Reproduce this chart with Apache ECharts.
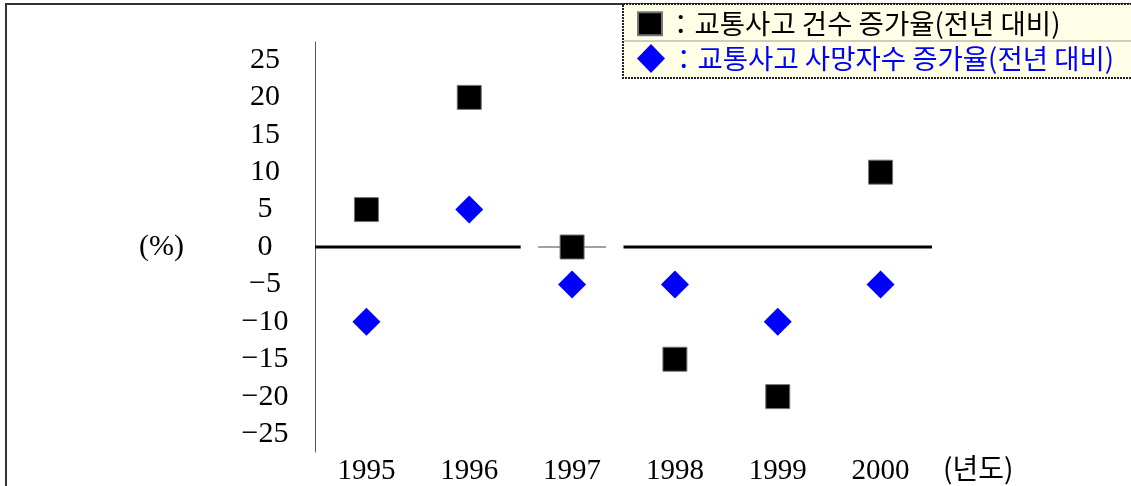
<!DOCTYPE html>
<html>
<head>
<meta charset="utf-8">
<script src="https://cdn.jsdelivr.net/npm/echarts@6/dist/echarts.min.js"></script>
<style>
html,body{margin:0;padding:0;background:#fff;}
#chart{width:1131px;height:486px;}
</style>
</head>
<body>
<div id="chart"></div>
<script>
// ---- data ----
const years = ['1995', '1996', '1997', '1998', '1999', '2000'];
const accidentGrowth = [5, 20, 0, -15, -20, 10];      // ■ 교통사고 건수 증가율
const fatalityGrowth = [-10, 5, -5, -5, -10, -5];     // ◆ 교통사고 사망자수 증가율
const yTickLabels = [25, 20, 15, 10, 5, 0, -5, -10, -15, -20, -25];
const seriesNames = ['교통사고 건수 증가율(전년 대비)', '교통사고 사망자수 증가율(전년 대비)'];

// zero line (drawn on a hidden value axis spanning the category bands), broken around 1997
const breakIdx = years.indexOf('1997');
const zeroThick = [[0, 0], [breakIdx, 0], [breakIdx + 0.5, '-'], [breakIdx + 1, 0], [years.length, 0]];
const zeroThin = [[breakIdx + 0.17, 0], [breakIdx + 0.83, 0]];

const chart = echarts.init(document.getElementById('chart'), null, {renderer: 'canvas'});
const serif = '"Liberation Serif", "Times New Roman", serif';
const kr = '"Noto Sans CJK KR", sans-serif';

chart.setOption({
  backgroundColor: '#fff',
  animation: false,
  graphic: [
    { type: 'polyline', shape: { points: [[6, 486], [6, 4], [1131, 4]] },
      style: { stroke: '#333', lineWidth: 2, fill: null }, z: 0 },
    { type: 'rect', shape: { x: 623, y: 4, width: 520, height: 74 },
      style: { fill: '#FFFFE8', stroke: '#222', lineWidth: 2, lineDash: [2, 1] }, z: 1 },
    { type: 'line', shape: { x1: 624, y1: 41, x2: 1131, y2: 41 },
      style: { stroke: '#999', lineWidth: 1 }, z: 1 }
  ],
  legend: [
    { data: [{ name: seriesNames[0], icon: 'rect', textStyle: { color: '#000' } }],
      left: 637, top: 10, itemWidth: 24, itemHeight: 23, padding: 0,
      formatter: '：{name}', textStyle: { fontFamily: kr, fontSize: 27.5, color: '#000' },
      selectedMode: false },
    { data: [{ name: seriesNames[1], icon: 'diamond', textStyle: { color: '#0000FF' } }],
      left: 637, top: 44, itemWidth: 28, itemHeight: 29, padding: 0,
      formatter: '：{name}', textStyle: { fontFamily: kr, fontSize: 27.5, color: '#0000FF' },
      selectedMode: false }
  ],
  grid: { left: 315, right: 199, top: 42, bottom: 34, containLabel: false },
  xAxis: [
    { type: 'category', data: years, boundaryGap: true,
      axisLine: { show: false, onZero: false }, axisTick: { show: false }, splitLine: { show: false },
      axisLabel: { fontFamily: serif, fontSize: 29, color: '#000', margin: 5 },
      name: '(년도)', nameLocation: 'end', nameGap: 11,
      nameTextStyle: { fontFamily: kr, fontSize: 28, color: '#000', verticalAlign: 'top', padding: [2, 0, 0, 0] } },
    { type: 'value', min: 0, max: years.length, show: false }
  ],
  yAxis: {
    type: 'value', min: -27.4, max: 27.4,
    axisLine: { show: true, lineStyle: { color: '#555', width: 1 } },
    axisTick: { show: false }, splitLine: { show: false },
    axisLabel: { customValues: yTickLabels, fontFamily: serif, fontSize: 30, color: '#000',
                 align: 'center', margin: 50, formatter: v => String(v).replace('-', '−') },
    name: '(%)', nameLocation: 'middle', nameRotate: 0, nameGap: 131,
    nameTextStyle: { fontFamily: serif, fontSize: 30, color: '#000' }
  },
  series: [
    { type: 'line', xAxisIndex: 1, data: zeroThick, symbol: 'none', silent: true, z: 1,
      connectNulls: false, lineStyle: { color: '#000', width: 3 } },
    { type: 'line', xAxisIndex: 1, data: zeroThin, symbol: 'none', silent: true, z: 1,
      lineStyle: { color: '#444', width: 1 } },
    { name: seriesNames[0], type: 'scatter', data: accidentGrowth, symbol: 'rect', symbolSize: 24, z: 3,
      itemStyle: { color: '#000', opacity: 1, borderColor: '#777', borderWidth: 1 } },
    { name: seriesNames[1], type: 'scatter', data: fatalityGrowth, symbol: 'diamond', symbolSize: [28, 28], z: 3,
      itemStyle: { color: '#0000FF', opacity: 1 } }
  ]
});
</script>
</body>
</html>
